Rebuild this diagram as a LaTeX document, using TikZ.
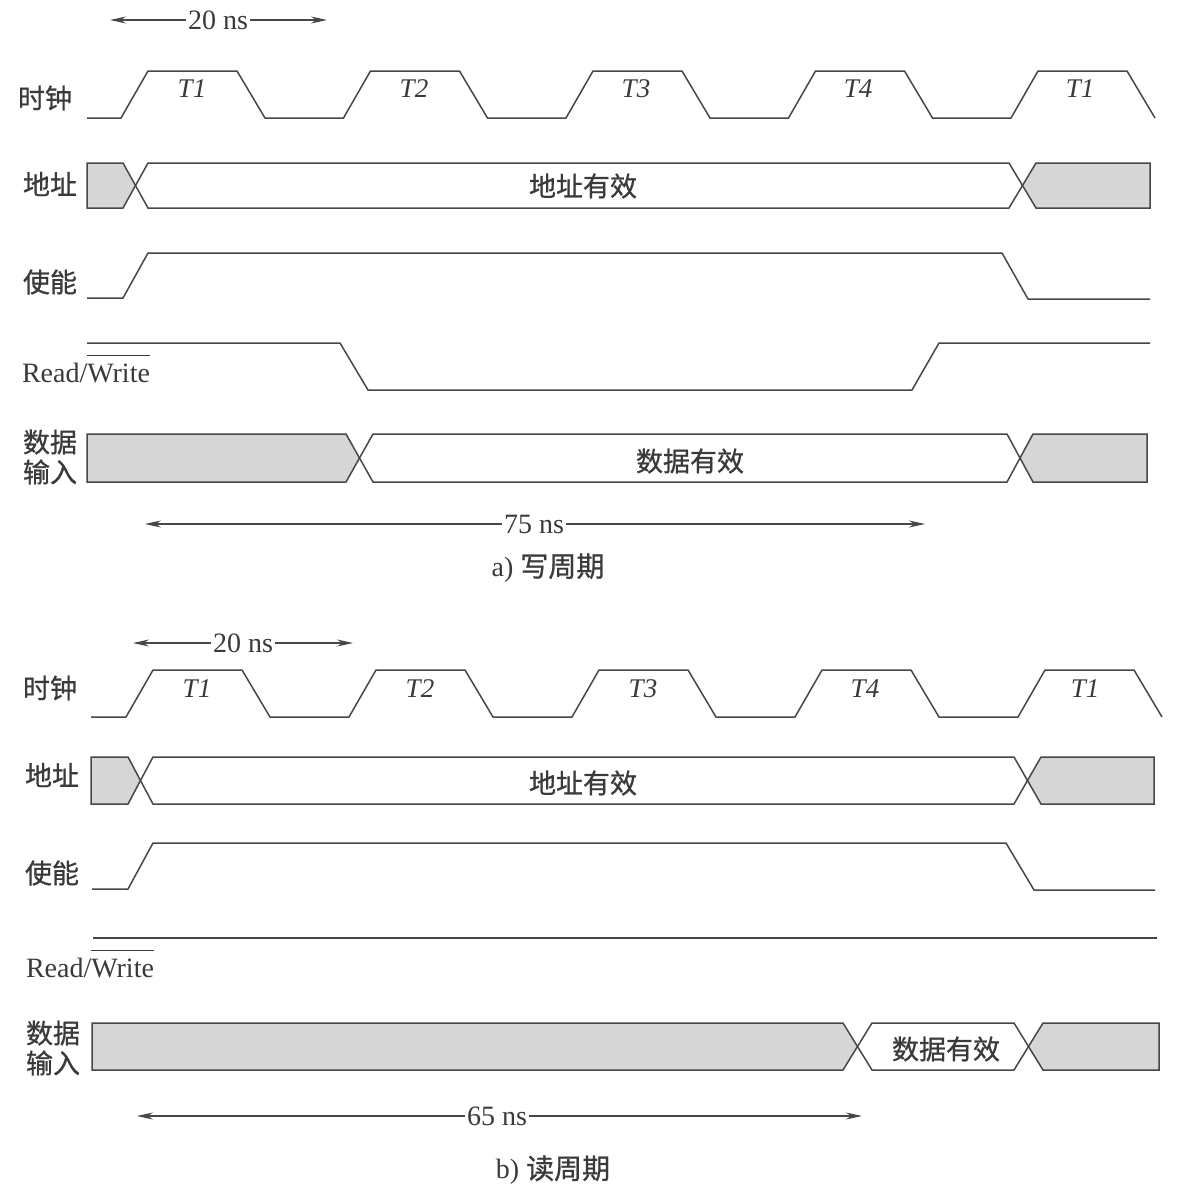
\documentclass[tikz,border=0pt]{standalone}
\usepackage{fontspec}
\setmainfont{Liberation Serif}
\newfontfamily\cjk{Noto Sans CJK SC}[FakeBold=0.8]
\usetikzlibrary{arrows.meta}
\definecolor{ink}{HTML}{474747}
\definecolor{txt}{HTML}{3A3A3A}
\definecolor{shade}{HTML}{D6D6D6}
\tikzset{
  sig/.style={draw=ink, line width=1.5pt, line join=miter},
  bus/.style={draw=ink, line width=1.5pt, fill=white},
  busgray/.style={draw=ink, line width=1.5pt, fill=shade},
  dim/.style={draw=ink, line width=1.1pt, -{Stealth[length=16pt,width=7pt]}},
  lbl/.style={text=txt, font=\cjk\fontsize{27}{30}\selectfont, inner sep=0pt, align=center},
  lat/.style={text=txt, font=\fontsize{28}{30}\selectfont, inner sep=0pt},
  tlab/.style={text=txt, font=\itshape\fontsize{27}{30}\selectfont, inner sep=0pt},
  dimtxt/.style={text=txt, font=\fontsize{28}{30}\selectfont, inner sep=2pt, fill=white},
}
\newcommand\rwlabel{Read/$\overline{\mbox{\rule{0pt}{25pt}Write}}$}
\begin{document}
\begin{tikzpicture}[x=1pt,y=-1pt]
\useasboundingbox[fill=white] (0,0) rectangle (1188,1195);

% ================= a) write cycle =================
% 20 ns
\coordinate (a20L) at (110,20);
\coordinate (a20R) at (327,20);
\node[dimtxt] (a20) at (218,20) {20 ns};
\draw[dim] (a20) -- (a20L);
\draw[dim] (a20) -- (a20R);

% labels
\node[lbl] (aclk) at (45,98) {时钟};
\node[lbl] (aadr) at (50,184) {地址};
\node[lbl] (aen) at (50,282) {使能};
\node[lat, anchor=base] (arw) at (86,382) {\rwlabel};
\node[lbl] (adat) at (50,457) {数据\\输入};

% clock
\draw[sig] (87,118) foreach \k in {0,...,4} {
  -- ({121+222.5*\k},118) -- ({148+222.5*\k},71)
  -- ({237+222.5*\k},71) -- ({265+222.5*\k},118) };
\node[tlab] (aT1) at (192,89) {T1};
\node[tlab] (aT2) at (414,89) {T2};
\node[tlab] (aT3) at (636,89) {T3};
\node[tlab] (aT4) at (858,89) {T4};
\node[tlab] (aT5) at (1080,89) {T1};

% address
\draw[busgray] (87,163) -- (123,163) -- (135.5,185.5) -- (123,208) -- (87,208) -- cycle;
\draw[bus] (135.5,185.5) -- (148,163) -- (1009,163) -- (1022.5,185.5) -- (1009,208) -- (148,208) -- cycle;
\draw[busgray] (1022.5,185.5) -- (1036,163) -- (1150,163) -- (1150,208) -- (1036,208) -- cycle;
\node[lbl] (aadrv) at (583,186) {地址有效};

% enable
\draw[sig] (87,298) -- (123,298) -- (148,253) -- (1002,253) -- (1028,299) -- (1150,299);

% read/write
\draw[sig] (87,343) -- (340,343) -- (368,390) -- (912,390) -- (939,343) -- (1150,343);

% data
\draw[busgray] (87,434) -- (346,434) -- (359.5,458) -- (346,482) -- (87,482) -- cycle;
\draw[bus] (359.5,458) -- (373,434) -- (1007,434) -- (1020,458) -- (1007,482) -- (373,482) -- cycle;
\draw[busgray] (1020,458) -- (1033,434) -- (1147,434) -- (1147,482) -- (1033,482) -- cycle;
\node[lbl] (adatv) at (690,461) {数据有效};

% 75 ns
\coordinate (a75L) at (145,524);
\coordinate (a75R) at (925,524);
\node[dimtxt] (a75) at (534,524) {75 ns};
\draw[dim] (a75) -- (a75L);
\draw[dim] (a75) -- (a75R);

\node[lat] (acap) at (548,568) {a) {\cjk 写周期}};

% ================= b) read cycle =================
\coordinate (b20L) at (133,643);
\coordinate (b20R) at (353,643);
\node[dimtxt] (b20) at (243,643) {20 ns};
\draw[dim] (b20) -- (b20L);
\draw[dim] (b20) -- (b20R);

\node[lbl] (bclk) at (50,688) {时钟};
\node[lbl] (badr) at (52,775) {地址};
\node[lbl] (ben) at (52,873) {使能};
\node[lat, anchor=base] (brw) at (90,977) {\rwlabel};
\node[lbl] (bdat) at (53,1048) {数据\\输入};

% clock
\draw[sig] (91,717) foreach \k in {0,...,4} {
  -- ({126+223*\k},717) -- ({153+223*\k},670)
  -- ({242+223*\k},670) -- ({270+223*\k},717) };
\node[tlab] (bT1) at (197,689) {T1};
\node[tlab] (bT2) at (420,689) {T2};
\node[tlab] (bT3) at (643,689) {T3};
\node[tlab] (bT4) at (865,689) {T4};
\node[tlab] (bT5) at (1085,689) {T1};

% address
\draw[busgray] (91,757) -- (128,757) -- (140.5,780.5) -- (128,804) -- (91,804) -- cycle;
\draw[bus] (140.5,780.5) -- (153,757) -- (1014,757) -- (1027.5,780.5) -- (1014,804) -- (153,804) -- cycle;
\draw[busgray] (1027.5,780.5) -- (1041,757) -- (1154,757) -- (1154,804) -- (1041,804) -- cycle;
\node[lbl] (badrv) at (583,783) {地址有效};

% enable
\draw[sig] (92,889) -- (128,889) -- (153,843) -- (1006,843) -- (1034,890) -- (1155,890);

% read/write
\draw[sig] (93,938) -- (1157,938);

% data
\draw[busgray] (92,1023) -- (843,1023) -- (857.5,1046.5) -- (843,1070) -- (92,1070) -- cycle;
\draw[bus] (857.5,1046.5) -- (872,1023) -- (1014,1023) -- (1028.5,1046.5) -- (1014,1070) -- (872,1070) -- cycle;
\draw[busgray] (1028.5,1046.5) -- (1043,1023) -- (1159,1023) -- (1159,1070) -- (1043,1070) -- cycle;
\node[lbl] (bdatv) at (946,1049) {数据有效};

% 65 ns
\coordinate (b65L) at (137,1116);
\coordinate (b65R) at (862,1116);
\node[dimtxt] (b65) at (497,1116) {65 ns};
\draw[dim] (b65) -- (b65L);
\draw[dim] (b65) -- (b65R);

\node[lat] (bcap) at (553,1170) {b) {\cjk 读周期}};
\end{tikzpicture}
\end{document}
